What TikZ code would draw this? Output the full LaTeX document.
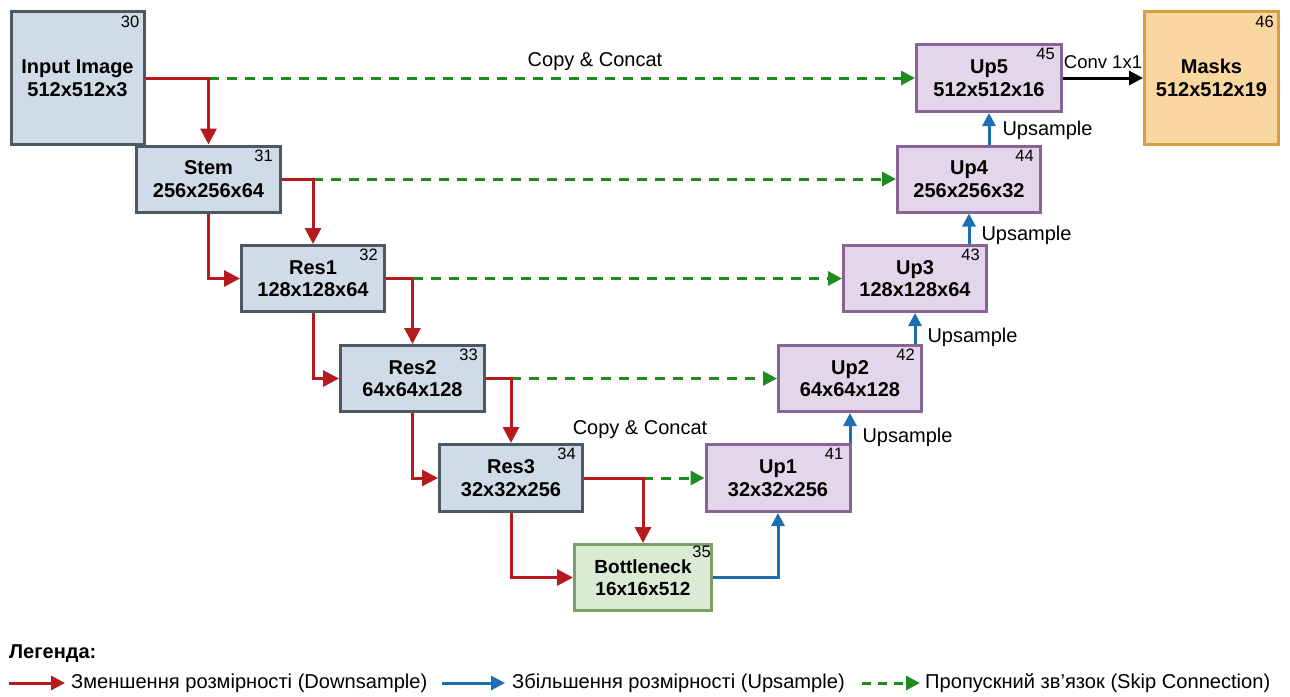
\documentclass[tikz,border=0pt]{standalone}
\usepackage{fontspec}
\setmainfont{Liberation Sans}
\usetikzlibrary{arrows.meta,calc}

\definecolor{encfill}{RGB}{207,220,231}
\definecolor{encdraw}{RGB}{76,88,98}
\definecolor{decfill}{RGB}{228,214,234}
\definecolor{decdraw}{RGB}{136,100,150}
\definecolor{botfill}{RGB}{218,235,212}
\definecolor{botdraw}{RGB}{122,160,104}
\definecolor{outfill}{RGB}{250,214,160}
\definecolor{outdraw}{RGB}{214,160,64}
\definecolor{downc}{RGB}{180,26,30}
\definecolor{upc}{RGB}{30,110,180}
\definecolor{skipc}{RGB}{30,140,30}

\begin{document}
\begin{tikzpicture}[x=1pt,y=-1pt,
  block/.style={rectangle, line width=3pt, inner sep=0pt, align=center,
    font=\fontsize{20}{22.5}\selectfont\bfseries},
  enc/.style={block, fill=encfill, draw=encdraw},
  dec/.style={block, fill=decfill, draw=decdraw},
  bot/.style={block, fill=botfill, draw=botdraw, font=\fontsize{19}{22.5}\selectfont\bfseries},
  outb/.style={block, fill=outfill, draw=outdraw},
  num/.style={anchor=north east, inner sep=0pt, font=\fontsize{16.5}{16.5}\selectfont},
  lbl/.style={inner sep=0pt, font=\fontsize{20}{20}\selectfont},
  down/.style={draw=downc, line width=3pt, -{Triangle[length=16pt,width=16pt]}},
  up/.style={draw=upc, line width=3pt, -{Triangle[length=13pt,width=13pt]}},
  skip/.style={draw=skipc, line width=3pt, dash pattern=on 10pt off 8pt,
    -{Triangle[length=14pt,width=14pt]}},
  conv/.style={draw=black, line width=3pt, -{Triangle[length=14pt,width=14pt]}},
  legtext/.style={anchor=west, inner sep=0pt, font=\fontsize{20.1}{20.1}\selectfont}
]
\useasboundingbox (0,0) rectangle (1290,696);
\fill[white] (0,0) rectangle (1290,696);

% encoder
\node[enc, minimum width=133, minimum height=133] (in) at (77.5,78) {Input Image\\512x512x3};
\node[enc, minimum width=144, minimum height=66] (stem) at (208.5,179) {Stem\\256x256x64};
\node[enc, minimum width=143, minimum height=66] (res1) at (313,278.5) {Res1\\128x128x64};
\node[enc, minimum width=144, minimum height=66] (res2) at (412.5,378.5) {Res2\\64x64x128};
\node[enc, minimum width=143, minimum height=67] (res3) at (511,478) {Res3\\32x32x256};
\node[bot, minimum width=137, minimum height=66] (bn) at (643,577.5) {Bottleneck\\16x16x512};

% decoder
\node[dec, minimum width=144, minimum height=67] (up1) at (778,478) {Up1\\32x32x256};
\node[dec, minimum width=143, minimum height=66] (up2) at (850,378.5) {Up2\\64x64x128};
\node[dec, minimum width=143, minimum height=66] (up3) at (915,278.5) {Up3\\128x128x64};
\node[dec, minimum width=143, minimum height=66] (up4) at (969,179) {Up4\\256x256x32};
\node[dec, minimum width=145, minimum height=67] (up5) at (989,78) {Up5\\512x512x16};
\node[outb, minimum width=134, minimum height=133] (mask) at (1211.5,78) {Masks\\512x512x19};

% block numbers
\node[num] (n30) at ($(in.north east)+(-6,6)$) {30};
\node[num] (n31) at ($(stem.north east)+(-9,5)$) {31};
\node[num] (n32) at ($(res1.north east)+(-8,5)$) {32};
\node[num] (n33) at ($(res2.north east)+(-8,5)$) {33};
\node[num] (n34) at ($(res3.north east)+(-8,5)$) {34};
\node[num] (n35) at ($(bn.north east)+(-2,3)$) {35};
\node[num] (n41) at ($(up1.north east)+(-8,5)$) {41};
\node[num] (n42) at ($(up2.north east)+(-8,5)$) {42};
\node[num] (n43) at ($(up3.north east)+(-8,5)$) {43};
\node[num] (n44) at ($(up4.north east)+(-8,5)$) {44};
\node[num] (n45) at ($(up5.north east)+(-8,5)$) {45};
\node[num] (n46) at ($(mask.north east)+(-6,6)$) {46};

% branch points of the skip connections
\coordinate (j0) at (stem.north |- in.east);
\coordinate (j1) at (res1.north |- stem.east);
\coordinate (j2) at (res2.north |- res1.east);
\coordinate (j3) at (res3.north |- res2.east);
\coordinate (j4) at (bn.north |- res3.east);

% skip connections
\draw[skip] (j0) -- node[lbl, pos=0.547, above=6pt] {Copy \& Concat} (up5.west);
\draw[skip] (j1) -- (up4.west);
\draw[skip] (j2) -- (up3.west);
\draw[skip] (j3) -- (up2.west);
\draw[skip] (j4) -- (up1.west);
\node[lbl] (cc2) at (640,430) {Copy \& Concat};

% downsampling path
\draw[down] (in.east) -| (stem.north);
\draw[down] (stem.east) -| (res1.north);
\draw[down] (res1.east) -| (res2.north);
\draw[down] (res2.east) -| (res3.north);
\draw[down] (res3.east) -| (bn.north);
\draw[down] (stem.south) |- (res1.west);
\draw[down] (res1.south) |- (res2.west);
\draw[down] (res2.south) |- (res3.west);
\draw[down] (res3.south) |- (bn.west);

% upsampling path
\draw[up] (bn.east) -| (up1.south);
\draw[up] (up2.south |- up1.north) -- node[lbl, pos=0.2, anchor=west, xshift=11pt] {Upsample} (up2.south);
\draw[up] (up3.south |- up2.north) -- node[lbl, pos=0.2, anchor=west, xshift=11pt] {Upsample} (up3.south);
\draw[up] (up4.south |- up3.north) -- node[lbl, pos=0.28, anchor=west, xshift=11pt] {Upsample} (up4.south);
\draw[up] (up5.south |- up4.north) -- node[lbl, pos=0.44, anchor=west, xshift=12pt] {Upsample} (up5.south);

% output head
\draw[conv] (up5.east) -- node[lbl, above=8pt, font=\fontsize{18.5}{18.5}\selectfont] {Conv 1x1} (mask.west);

% legend
\node[anchor=west, inner sep=0pt, font=\fontsize{20}{20}\selectfont\bfseries] (leg) at (9,654) {Легенда:};
\coordinate (la0) at (9,683);
\coordinate (la1) at (65,683);
\coordinate (lb0) at (442,683);
\coordinate (lb1) at (505,683);
\coordinate (lc0) at (862,683);
\coordinate (lc1) at (920,683);
\draw[down, -{Triangle[length=14pt,width=14pt]}] (la0) -- (la1);
\draw[up, -{Triangle[length=14pt,width=14pt]}] (lb0) -- (lb1);
\draw[skip, dash pattern=on 9pt off 7pt] (lc0) -- (lc1);
\node[legtext] (lt1) at (71,683) {Зменшення розмірності (Downsample)};
\node[legtext] (lt2) at (512,683) {Збільшення розмірності (Upsample)};
\node[legtext] (lt3) at (925,683) {Пропускний зв’язок (Skip Connection)};
\end{tikzpicture}
\end{document}
